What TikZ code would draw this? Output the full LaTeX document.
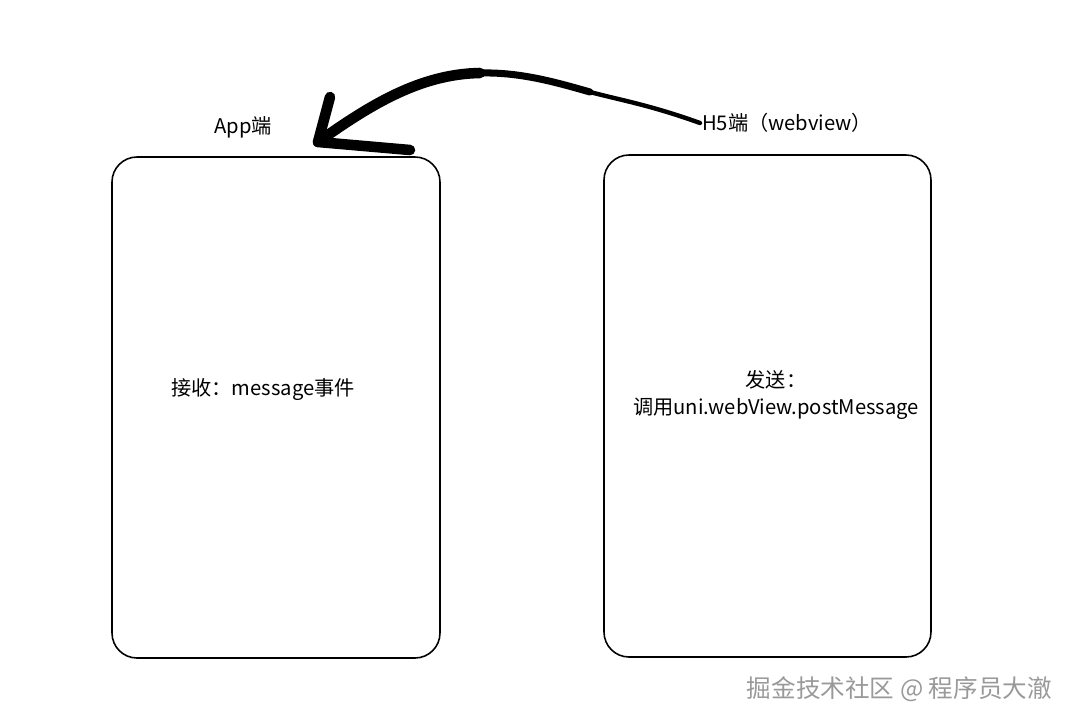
\documentclass[tikz,border=0pt]{standalone}
\usepackage{fontspec}
\setmainfont{Noto Sans CJK SC}
\newfontfamily\cjk{Noto Sans CJK SC}

\begin{document}
\begin{tikzpicture}[x=0.02cm, y=-0.02cm,
    panel/.style={draw, line width=0.9pt, rounded corners=0.5cm},
    lbl/.style={font=\cjk\fontsize{11.5}{15}\selectfont, inner sep=1pt},
    wmtext/.style={font=\cjk\fontsize{14}{17}\selectfont, text=gray!80}]
    % 画布: 1080 x 724 像素, 1像素 = 0.02cm
    \useasboundingbox (0,0) rectangle (1080,724);

    % 两个端的框
    \draw[panel] (112,157) rectangle (440,658);
    \draw[panel] (604,155) rectangle (931,657);

    % 标题
    \node[lbl] (app) at (243,127) {App端};
    \node[lbl, anchor=west] (h5) at (700,123) {H5端（webview）};

    % 框内文字
    \node[lbl] (recv) at (263,390) {接收：message事件};
    \node[lbl, align=center] (send) at (776,395) {发送：\\调用uni.webView.postMessage};

    % 箭头: 从H5端指向App端, 越靠近箭头越粗
    \coordinate (q1) at (590,92);
    \coordinate (mid) at (480,73);
    \coordinate (tip) at (318,142);
    \draw[line width=2.5pt, line cap=round] (h5.west) .. controls (650,105) and (620,100) .. (q1);
    \draw[line width=4pt, line cap=round] (q1) .. controls (555,82) and (520,72) .. (mid);
    \draw[line width=6pt, line cap=round] (mid) .. controls (420,74) and (370,105) .. (tip);
    \coordinate (barbA) at (330,97);
    \coordinate (barbB) at (410,150);
    \draw[line width=6pt, line cap=round, line join=round] (barbA) -- (tip) -- (barbB);

    % 水印
    \node[wmtext, anchor=east] (wm) at (1058,689) {掘金技术社区 @ 程序员大澈};
\end{tikzpicture}
\end{document}
